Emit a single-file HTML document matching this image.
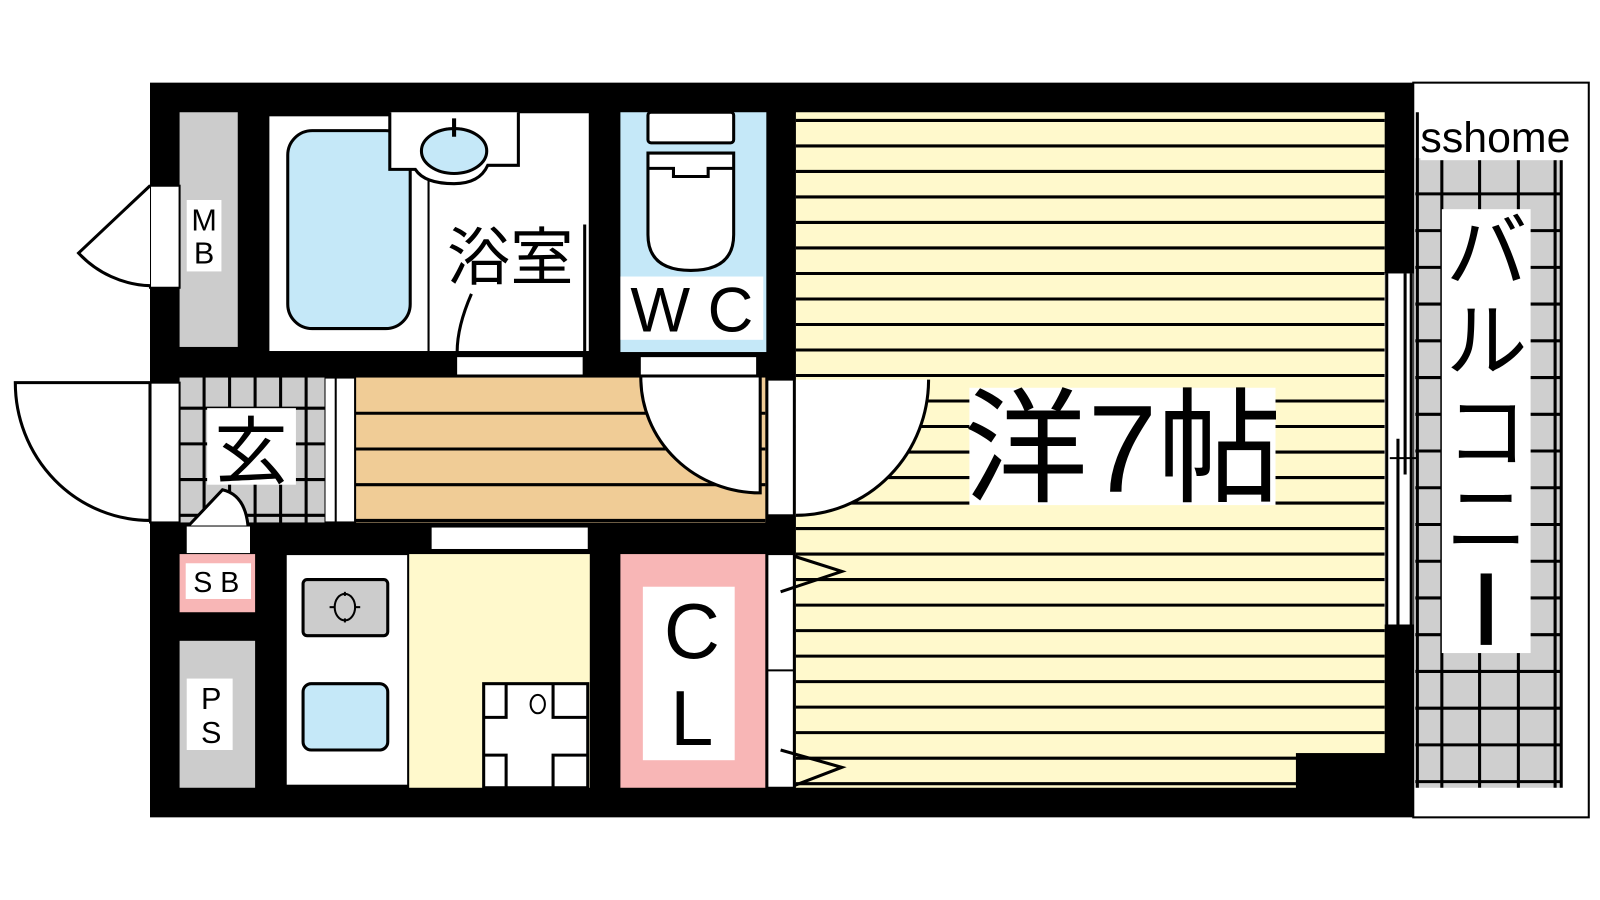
<!DOCTYPE html>
<html><head><meta charset="utf-8"><style>
html,body{margin:0;padding:0;background:#fff;width:1600px;height:900px;overflow:hidden}
text{font-family:"Liberation Sans","Noto Sans CJK JP",sans-serif}
</style></head><body>
<svg width="1600" height="900" viewBox="0 0 1568 882" preserveAspectRatio="none" xmlns="http://www.w3.org/2000/svg" style="display:block">
<rect width="1568" height="882" fill="#fff"/>
<!-- balcony -->
<rect x="1385" y="81" width="172" height="720" fill="#fff" stroke="#000" stroke-width="2"/>
<rect x="1387" y="155" width="143" height="617" fill="#cfcfcf"/>
<g stroke="#000" stroke-width="3">
<line x1="1389" y1="110" x2="1389" y2="772"/><line x1="1413" y1="155" x2="1413" y2="772"/><line x1="1450" y1="155" x2="1450" y2="772"/><line x1="1488" y1="155" x2="1488" y2="772"/><line x1="1524" y1="155" x2="1524" y2="772"/><line x1="1530" y1="155" x2="1530" y2="772"/>
</g>
<g stroke="#000" stroke-width="3">
<line x1="1387" y1="190" x2="1530" y2="190"/><line x1="1387" y1="226" x2="1530" y2="226"/><line x1="1387" y1="262" x2="1530" y2="262"/><line x1="1387" y1="298" x2="1530" y2="298"/><line x1="1387" y1="334" x2="1530" y2="334"/><line x1="1387" y1="370" x2="1530" y2="370"/><line x1="1387" y1="406" x2="1530" y2="406"/><line x1="1387" y1="442" x2="1530" y2="442"/><line x1="1387" y1="478" x2="1530" y2="478"/><line x1="1387" y1="514" x2="1530" y2="514"/><line x1="1387" y1="550" x2="1530" y2="550"/><line x1="1387" y1="586" x2="1530" y2="586"/><line x1="1387" y1="622" x2="1530" y2="622"/><line x1="1387" y1="658" x2="1530" y2="658"/><line x1="1387" y1="694" x2="1530" y2="694"/><line x1="1387" y1="730" x2="1530" y2="730"/><line x1="1387" y1="766" x2="1530" y2="766"/>
</g>
<rect x="1392" y="112" width="155" height="45" fill="#fff"/>
<text x="1392" y="149" font-size="42" fill="#000">sshome</text>
<rect x="1413" y="205" width="87" height="435" fill="#fff"/>
<text x="1457" y="275" font-size="80" text-anchor="middle">バ</text>
<text x="1457" y="362" font-size="80" text-anchor="middle">ル</text>
<text x="1457" y="452" font-size="80" text-anchor="middle">コ</text>
<text x="1457" y="537" font-size="80" text-anchor="middle">ニ</text>
<rect x="1451" y="562" width="11" height="70" fill="#000"/>

<!-- building black -->
<rect x="147" y="81" width="1238" height="720" fill="#000"/>
<!-- main room -->
<rect x="780" y="110" width="577" height="662" fill="#fff9cc"/>
<g stroke="#000" stroke-width="3">
<line x1="780" y1="118" x2="1357" y2="118"/><line x1="780" y1="143" x2="1357" y2="143"/><line x1="780" y1="168" x2="1357" y2="168"/><line x1="780" y1="193" x2="1357" y2="193"/><line x1="780" y1="218" x2="1357" y2="218"/><line x1="780" y1="243" x2="1357" y2="243"/><line x1="780" y1="268" x2="1357" y2="268"/><line x1="780" y1="293" x2="1357" y2="293"/><line x1="780" y1="318" x2="1357" y2="318"/><line x1="780" y1="343" x2="1357" y2="343"/><line x1="780" y1="368" x2="1357" y2="368"/><line x1="780" y1="393" x2="1357" y2="393"/><line x1="780" y1="418" x2="1357" y2="418"/><line x1="780" y1="443" x2="1357" y2="443"/><line x1="780" y1="468" x2="1357" y2="468"/><line x1="780" y1="493" x2="1357" y2="493"/><line x1="780" y1="518" x2="1357" y2="518"/><line x1="780" y1="543" x2="1357" y2="543"/><line x1="780" y1="568" x2="1357" y2="568"/><line x1="780" y1="593" x2="1357" y2="593"/><line x1="780" y1="618" x2="1357" y2="618"/><line x1="780" y1="643" x2="1357" y2="643"/><line x1="780" y1="668" x2="1357" y2="668"/><line x1="780" y1="693" x2="1357" y2="693"/><line x1="780" y1="718" x2="1357" y2="718"/><line x1="780" y1="743" x2="1357" y2="743"/><line x1="780" y1="768" x2="1357" y2="768"/>
</g>
<rect x="1270" y="738" width="90" height="36" fill="#000"/>
<!-- right window -->
<rect x="1357" y="268" width="28" height="344" fill="#fff"/>
<g stroke="#000" stroke-width="3"><line x1="1359" y1="268" x2="1359" y2="612"/><line x1="1370" y1="430" x2="1370" y2="612"/><line x1="1377" y1="268" x2="1377" y2="465"/><line x1="1383" y1="268" x2="1383" y2="612"/><line x1="1362" y1="449" x2="1390" y2="449" stroke-width="2"/></g>
<rect x="950" y="380" width="300" height="115" fill="#fff"/>
<text x="1100" y="482" font-size="122" text-anchor="middle">洋7帖</text>

<!-- MB -->
<rect x="176" y="110" width="57" height="230" fill="#cccccc"/>
<rect x="183" y="196" width="34" height="70" fill="#fff"/>
<text x="200" y="226" font-size="30" text-anchor="middle">M</text>
<text x="200" y="258" font-size="30" text-anchor="middle">B</text>
<rect x="147" y="182" width="29" height="100" fill="#fff" stroke="#000" stroke-width="2"/>
<path d="M147,182 L77,248 A100,100 0 0 0 147,280" fill="#fff" stroke="#000" stroke-width="3"/>
<!-- bath -->
<rect x="263" y="113" width="157" height="232" fill="#fff" stroke="#000" stroke-width="2"/>
<rect x="282" y="128" width="120" height="194" rx="24" fill="#c5e8f8" stroke="#000" stroke-width="3"/>
<rect x="420" y="110" width="158" height="235" fill="#fff" stroke="#000" stroke-width="2"/>
<path d="M382,110 V166 H407 Q416,180 445,180 Q470,180 478,162 H508 V110" fill="#fff" stroke="#000" stroke-width="3"/>
<ellipse cx="445" cy="148" rx="32" ry="22" fill="#c5e8f8" stroke="#000" stroke-width="3"/>
<line x1="445" y1="116" x2="445" y2="134" stroke="#000" stroke-width="4"/>
<path d="M462,288 Q448,320 448,345" fill="none" stroke="#000" stroke-width="3"/>
<line x1="573" y1="220" x2="573" y2="345" stroke="#000" stroke-width="3"/>
<text x="500" y="274" font-size="62" text-anchor="middle">浴室</text>
<!-- WC -->
<rect x="608" y="110" width="143" height="235" fill="#c5e8f8"/>
<rect x="635" y="110" width="84" height="30" rx="3" fill="#fff" stroke="#000" stroke-width="3"/>
<path d="M635,150 H719 V230 Q719,265 677,265 Q635,265 635,230 Z" fill="#fff" stroke="#000" stroke-width="3"/>
<path d="M635,165 H660 V173 H694 V165 H719" fill="none" stroke="#000" stroke-width="3"/>
<rect x="608" y="271" width="140" height="62" fill="#fff"/>
<text x="678" y="325" font-size="62" text-anchor="middle">W C</text>
<rect x="448" y="350" width="123" height="17" fill="#fff"/>
<rect x="628" y="350" width="113" height="17" fill="#fff"/>
<!-- hallway -->
<rect x="348" y="370" width="402" height="142" fill="#f0cc96"/>
<g stroke="#000" stroke-width="3"><line x1="348" y1="405" x2="750" y2="405"/><line x1="348" y1="440" x2="750" y2="440"/><line x1="348" y1="475" x2="750" y2="475"/><line x1="348" y1="510" x2="750" y2="510"/></g>
<rect x="318" y="370" width="30" height="142" fill="#fff" stroke="#000" stroke-width="2"/>
<line x1="329" y1="370" x2="329" y2="512" stroke="#000" stroke-width="2"/>
<!-- entrance -->
<rect x="176" y="370" width="142" height="142" fill="#cccccc"/>
<g stroke="#000" stroke-width="3"><line x1="200" y1="370" x2="200" y2="512"/><line x1="225" y1="370" x2="225" y2="512"/><line x1="250" y1="370" x2="250" y2="512"/><line x1="275" y1="370" x2="275" y2="512"/><line x1="300" y1="370" x2="300" y2="512"/><line x1="176" y1="400" x2="318" y2="400"/><line x1="176" y1="435" x2="318" y2="435"/><line x1="176" y1="470" x2="318" y2="470"/><line x1="176" y1="505" x2="318" y2="505"/></g>
<rect x="203" y="400" width="87" height="75" fill="#fff"/>
<text x="246" y="468" font-size="72" text-anchor="middle">玄</text>
<rect x="147" y="375" width="29" height="137" fill="#fff" stroke="#000" stroke-width="2"/>
<path d="M147,375 H15 A132,135 0 0 0 147,510 Z" fill="#fff" stroke="#000" stroke-width="3"/>
<path d="M185,515 L218,480 Q240,485 243,515" fill="#fff" stroke="#000" stroke-width="3"/>
<!-- door to room -->
<rect x="752" y="372" width="26" height="133" fill="#fff" stroke="#000" stroke-width="2"/>
<path d="M628,370 A117,113 0 0 0 745,483 V370" fill="#fff" stroke="#000" stroke-width="3"/>
<path d="M780,372 H910 A130,133 0 0 1 780,505 Z" fill="#fff" stroke="none"/>
<path d="M910,372 A130,133 0 0 1 780,505" fill="none" stroke="#000" stroke-width="3"/>
<rect x="423" y="517" width="153" height="21" fill="#fff"/>
<rect x="183" y="516" width="62" height="26" fill="#fff"/>
<!-- SB -->
<rect x="176" y="543" width="74" height="57" fill="#f8b6b6"/>
<rect x="182" y="552" width="64" height="35" fill="#fff"/>
<text x="212" y="580" font-size="28" text-anchor="middle">S B</text>
<!-- PS -->
<rect x="176" y="628" width="74" height="144" fill="#cccccc"/>
<rect x="183" y="665" width="45" height="70" fill="#fff"/>
<text x="207" y="695" font-size="30" text-anchor="middle">P</text>
<text x="207" y="728" font-size="30" text-anchor="middle">S</text>
<!-- kitchen -->
<rect x="280" y="543" width="120" height="227" fill="#fff" stroke="#000" stroke-width="2"/>
<rect x="297" y="568" width="83" height="55" rx="4" fill="#cccccc" stroke="#000" stroke-width="3"/>
<ellipse cx="338" cy="595" rx="10" ry="13" fill="none" stroke="#000" stroke-width="2"/>
<g stroke="#000" stroke-width="2"><line x1="323" y1="595" x2="328" y2="595"/><line x1="348" y1="595" x2="353" y2="595"/><line x1="338" y1="580" x2="338" y2="584"/><line x1="338" y1="606" x2="338" y2="610"/></g>
<rect x="297" y="670" width="83" height="65" rx="8" fill="#c5e8f8" stroke="#000" stroke-width="3"/>
<rect x="401" y="543" width="177" height="229" fill="#fff9cc"/>
<rect x="474" y="670" width="102" height="102" fill="#fff" stroke="#000" stroke-width="3"/>
<path d="M474,703 H496 V670 M542,670 V703 H576 M474,740 H496 V772 M542,772 V740 H576" fill="none" stroke="#000" stroke-width="3"/>
<ellipse cx="527" cy="690" rx="7" ry="9" fill="none" stroke="#000" stroke-width="2"/>
<!-- CL -->
<rect x="608" y="543" width="142" height="229" fill="#f8b6b6"/>
<rect x="630" y="575" width="90" height="170" fill="#fff"/>
<text x="678" y="645" font-size="76" text-anchor="middle">C</text>
<text x="678" y="730" font-size="76" text-anchor="middle">L</text>
<rect x="752" y="543" width="26" height="229" fill="#fff" stroke="#000" stroke-width="2"/>
<line x1="752" y1="657" x2="778" y2="657" stroke="#000" stroke-width="2"/>
<path d="M765,580 L825,560 L778,545 M765,735 L825,752 L778,770" fill="none" stroke="#000" stroke-width="3"/>
</svg>
</body></html>
